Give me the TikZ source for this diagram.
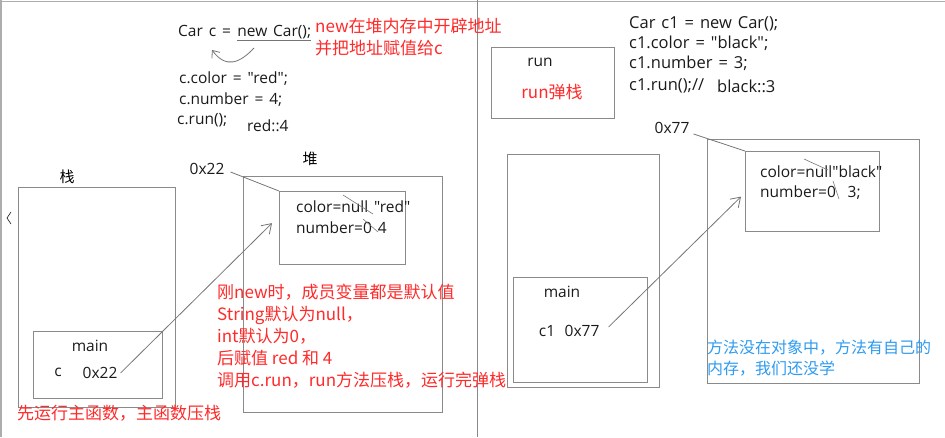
\documentclass[tikz,border=0pt]{standalone}
\usepackage{fontspec}
\setmainfont{Open Sans}
\newfontfamily\codefont{Open Sans}
\newfontfamily\cjk{Noto Sans CJK SC}
\usetikzlibrary{arrows.meta, positioning}
\definecolor{framegray}{HTML}{8A8A8A}
\definecolor{notered}{HTML}{FF2A2A}
\definecolor{noteblue}{HTML}{2E9BF0}
\definecolor{codeblack}{HTML}{1A1A1A}
\newcommand{\codetext}{\codefont\fontsize{15.5}{20}\selectfont\spaceskip 0.38em plus 0.1em\relax}
\newcommand{\codewidetext}{\codefont\fontsize{16.5}{20}\selectfont\spaceskip 0.36em plus 0.1em\relax}

\begin{document}
\begin{tikzpicture}[
    x=1pt, y=-1pt,
    box/.style={
        rectangle,
        draw=framegray,
        line width=1.3pt,
        inner sep=0pt,
        anchor=north west
    },
    code/.style={text=codeblack, font=\codetext, inner sep=0pt, anchor=base west},
    codewide/.style={code, font=\codewidetext},
    note/.style={text=notered, font=\cjk\fontsize{17}{22}\selectfont, inner sep=0pt, anchor=base west, align=left},
    memo/.style={text=noteblue, font=\cjk\fontsize{16}{21}\selectfont, inner sep=0pt, anchor=base west, align=left},
    link/.style={draw=framegray!85!black, line width=0.8pt},
    pointer/.style={link, -{Straight Barb[length=9pt, width=12pt]}}
]
\useasboundingbox (0,0) rectangle (945,437);

% frame of the screenshot
\draw[framegray!70, line width=1pt] (0,1) -- (945,1);
\draw[framegray!70, line width=1.5pt] (1,0) -- (1,437);
\draw[framegray, line width=1pt] (477,0) -- (477,437);
\draw[codeblack, line width=0.6pt] (11,212) -- (7,218) -- (11,224);

% left: first object
\node[code] (carA) at (178,36) {Car c =};
\node[code, right=6pt of carA.base east, anchor=base west] (newA) {new Car();};
\draw[link] ([yshift=-2pt]newA.south west) -- ([yshift=-2pt]newA.south east);
\coordinate (bendA) at (254,48);
\draw[link, -{Straight Barb[length=6pt, width=10pt]}] (bendA) .. controls (240,63) and (226,69) .. (212,50);
% base of a two-line node is its last line
\node[note] (newnoteA) at (315,54) {new在堆内存中开辟地址\\并把地址赋值给c};

\node[code] (colorA) at (179,83) {c.color = "red";};
\node[code] (numberA) at (179,104) {c.number = 4;};
\node[code] (runA) at (177,124) {c.run();};
\node[code] (outA) at (247,131) {red::4};

\node (stacklabelA) at (67,177) {\cjk\fontsize{15}{16}\selectfont 栈};
\node[box, minimum width=157pt, minimum height=220pt] (stackA) at (18,187) {};
\node[box, minimum width=129pt, minimum height=67pt] (mainA) at (33,331) {};
\node[code, anchor=center] (mainlabelA) at (90,346) {main};
\node[code, anchor=center] (varA) at (58,372) {c};
\node[code, anchor=center] (addrA) at (100,373) {0x22};

\node (heaplabelA) at (310,159) {\cjk\fontsize{15}{16}\selectfont 堆};
\node[box, minimum width=199pt, minimum height=236pt] (heapA) at (243,176) {};
\node[box, minimum width=126pt, minimum height=73pt] (objA) at (279,191) {};
\node[code] (fieldcolorA) at (296,212) {color=null "red"};
\node[code] (fieldnumberA) at (296,233) {number=0 4};
\draw[link, line width=0.6pt] (343,195) -- (373,214);
\draw[link, line width=0.6pt] (363,219) -- (378,232);
\node[code, anchor=center] (heapaddrA) at (207,169) {0x22};
\draw[link] ([xshift=6pt,yshift=-3pt]heapaddrA.east) -- (objA.north west);
\draw[pointer] ([xshift=3pt]addrA.east) -- ([xshift=-7pt,yshift=5pt]objA.west);

\node[note] (factsA) at (217,386) {刚new时，成员变量都是默认值\\String默认为null，\\int默认为0，\\后赋值 red 和 4\\调用c.run，run方法压栈，运行完弹栈};
\node[note] (pushA) at (17,419) {先运行主函数，主函数压栈};

% right: second object
\node[box, minimum width=123pt, minimum height=71pt] (runbox) at (491,47) {};
\node[code, anchor=center] (runlabel) at (540,62) {run};
\node[note, anchor=center] (popnote) at (552,92) {run弹栈};

\node[codewide] (carB) at (629,28) {Car c1 = new Car();};
\node[codewide] (colorB) at (629,48) {c1.color = "black";};
\node[codewide] (numberB) at (629,68) {c1.number = 3;};
\node[codewide] (runB) at (629,90) {c1.run();//};
\node[codewide] (outB) at (717,92) {black::3};

\node[box, minimum width=152pt, minimum height=233pt] (stackB) at (507,154) {};
\node[box, minimum width=134pt, minimum height=105pt] (mainB) at (513,277) {};
\node[code, anchor=center] (mainlabelB) at (562,292) {main};
\node[code, anchor=center] (varB) at (547,331) {c1};
\node[code, anchor=center] (addrB) at (582,331) {0x77};

\node[box, minimum width=212pt, minimum height=244pt] (heapB) at (707,139) {};
\node[box, minimum width=134pt, minimum height=80pt] (objB) at (745,151) {};
\node[code] (fieldcolorB) at (760,177) {color=null"black"};
\node[code] (fieldnumberB) at (760,197) {number=0\ \ 3;};
\draw[link, line width=0.6pt] (804,159) -- (828,170);
\draw[link, line width=0.6pt] (833,181) -- (839,199);
\node[code, anchor=center] (heapaddrB) at (672,128) {0x77};
\draw[link] ([xshift=4pt,yshift=-6pt]heapaddrB.east) -- (objB.north west);
\draw[pointer] ([xshift=9pt,yshift=4pt]addrB.east) -- ([xshift=-4pt,yshift=-5pt]objB.west);

\node[memo] (methodnote) at (707,374) {方法没在对象中，方法有自己的\\内存，我们还没学};

\end{tikzpicture}
\end{document}
